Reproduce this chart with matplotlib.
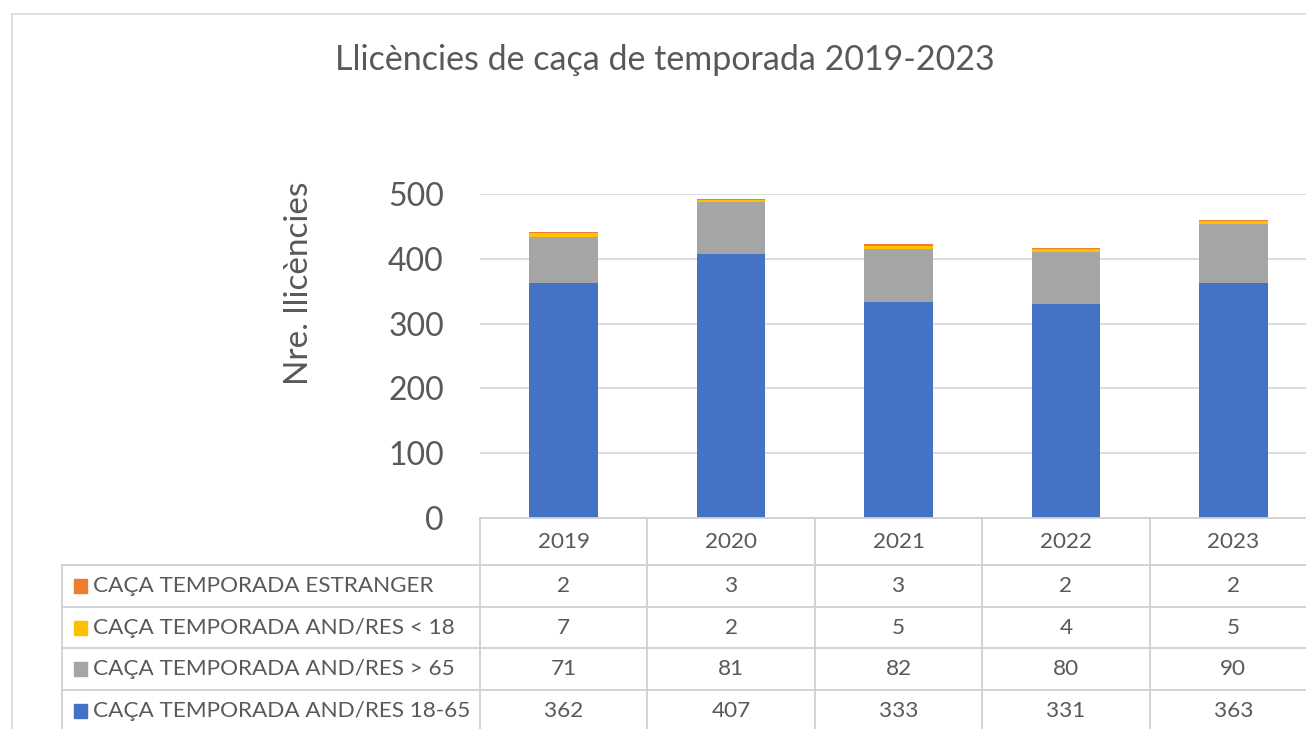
import numpy as np
import matplotlib.pyplot as plt
from matplotlib.lines import Line2D
from matplotlib.patches import Rectangle
import matplotlib.transforms as mtransforms

plt.rcParams['font.family'] = ['Lato', 'DejaVu Sans']

# Data
years = ['2019', '2020', '2021', '2022', '2023']
res_18_65 = [362, 407, 333, 331, 363]
res_over_65 = [71, 81, 82, 80, 90]
res_under_18 = [7, 2, 5, 4, 5]
estranger = [2, 3, 3, 2, 2]

series_names = ['CAÇA TEMPORADA AND/RES 18-65', 'CAÇA TEMPORADA AND/RES > 65',
                'CAÇA TEMPORADA AND/RES < 18', 'CAÇA TEMPORADA ESTRANGER']
series_vals = [res_18_65, res_over_65, res_under_18, estranger]
colors = ['#4472C4', '#A5A5A5', '#FFC000', '#ED7D31']

W, H = 1306, 729
txt = '#595959'
grid = '#D9D9D9'

fig = plt.figure(figsize=(W / 100, H / 100), dpi=100)


def fx(px):
    return px / W


def fy(py):
    return 1 - py / H


# plot area
left, right, top, bottom = 480, 1317, 194, 518
ax = fig.add_axes([fx(left), fy(bottom), fx(right - left), (bottom - top) / H])

x = np.arange(len(years))
base = np.zeros(len(years))
for vals, c in zip(series_vals, colors):
    ax.bar(x, vals, bottom=base, width=0.41, color=c, zorder=3)
    base += np.array(vals)

ax.set_xlim(-0.5, len(years) - 0.5)
ax.set_ylim(0, 500)
ax.set_yticks(range(0, 501, 100))
ax.yaxis.grid(True, color=grid, lw=1.3, zorder=0)
for s in ax.spines.values():
    s.set_visible(False)
ax.set_xticks([])
ax.tick_params(axis='y', length=0, labelsize=23, labelcolor=txt, pad=26)

fig.text(fx(299), fy(283), 'Nre. llicències', rotation=90, ha='center', va='center',
         fontsize=24, color=txt)

# title
fig.text(fx(665), fy(60), 'Llicències de caça de temporada 2019-2023',
         ha='center', va='center', fontsize=24.5, color=txt)

# chart border
fig.add_artist(Line2D([fx(12), fx(1306)], [fy(14), fy(14)], color=grid, lw=1.2))
fig.add_artist(Line2D([fx(12), fx(12)], [fy(14), fy(729)], color=grid, lw=1.2))

# data table
blend = mtransforms.blended_transform_factory(ax.transData, fig.transFigure)
row_edges = [518, 565, 607, 648, 690, 740]
lc = '#D0D0D0'
fs = 16.2
fig.add_artist(Line2D([fx(left), fx(right)], [fy(518), fy(518)], color=lc, lw=1.3))
for r in row_edges[1:-1]:
    fig.add_artist(Line2D([fx(62), fx(right)], [fy(r), fy(r)], color=lc, lw=1.3))
for i in range(len(years) + 1):
    ax.add_artist(Line2D([i - 0.5, i - 0.5], [fy(518), fy(740)], transform=blend,
                         color=lc, lw=1.3, clip_on=False))
fig.add_artist(Line2D([fx(62), fx(62)], [fy(565), fy(740)], color=lc, lw=1.3))

hdr_y = (row_edges[0] + row_edges[1]) / 2
for i, yr in enumerate(years):
    ax.text(i, fy(hdr_y), yr, transform=blend, ha='center', va='center',
            fontsize=fs, color=txt, clip_on=False)

# rows top to bottom: estranger, <18, >65, 18-65
for k, idx in enumerate([3, 2, 1, 0]):
    yc = (row_edges[k + 1] + row_edges[k + 2]) / 2
    if k == 3:
        yc = 711
    fig.add_artist(Rectangle((fx(74), fy(yc + 7)), fx(13), 14 / H,
                             color=colors[idx]))
    fig.text(fx(93), fy(yc), series_names[idx], ha='left', va='center',
             fontsize=fs, color=txt)
    for i, v in enumerate(series_vals[idx]):
        ax.text(i, fy(yc), str(v), transform=blend, ha='center', va='center',
                fontsize=fs, color=txt, clip_on=False)

fig.savefig('out.png', dpi=100)
